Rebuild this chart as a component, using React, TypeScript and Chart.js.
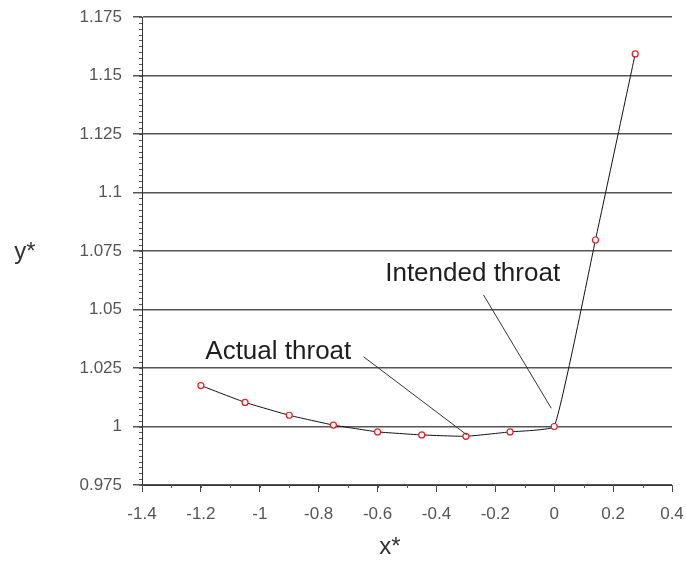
import React, { useEffect, useRef } from "react";
import { Chart, registerables } from "chart.js";

Chart.register(...registerables);

const xValues = [-1.2, -1.05, -0.9, -0.75, -0.6, -0.45, -0.3, -0.15, 0, 0.14, 0.275];
const yValues = [1.0175, 1.0103, 1.0048, 1.0006, 0.9977, 0.9964, 0.9958, 0.9977, 1.0, 1.0797, 1.1592];

const xTickValues = [-1.4, -1.2, -1, -0.8, -0.6, -0.4, -0.2, 0, 0.2, 0.4];
const yTickValues = [0.975, 1, 1.025, 1.05, 1.075, 1.1, 1.125, 1.15, 1.175];

const annotationTexts = ["Intended throat", "Actual throat"];
const annotationTextX = [-0.574, -1.185];
const annotationBaselineY = [1.0622, 1.0288];
const leaderStartX = [-0.24, -0.6475];
const leaderStartY = [1.0562, 1.0298];
const leaderEndX = [-0.01, -0.2965];
const leaderEndY = [1.0078, 0.9964];

const FONT = "'Liberation Sans', Arial, sans-serif";

const overlay = {
  id: "overlay",
  afterDraw(chart: any) {
    const ctx = chart.ctx;
    const xs = chart.scales.x;
    const ys = chart.scales.y;
    const area = chart.chartArea;
    ctx.save();
    ctx.strokeStyle = "#555";
    ctx.lineWidth = 1;
    const yMin = yTickValues[0];
    const yMax = yTickValues[yTickValues.length - 1];
    for (let i = 0; i <= Math.round((yMax - yMin) / 0.0025); i++) {
      const v = yMin + i * 0.0025;
      const py = Math.round(ys.getPixelForValue(v)) + 0.5;
      ctx.beginPath();
      ctx.moveTo(area.left - 3, py);
      ctx.lineTo(area.left, py);
      ctx.stroke();
    }
    const xMin = xTickValues[0];
    const xMax = xTickValues[xTickValues.length - 1];
    for (let i = 0; i <= Math.round((xMax - xMin) / 0.1); i++) {
      const v = xMin + i * 0.1;
      const px = Math.round(xs.getPixelForValue(v)) + 0.5;
      ctx.beginPath();
      ctx.moveTo(px, area.bottom);
      ctx.lineTo(px, area.bottom + 3);
      ctx.stroke();
    }
    ctx.strokeStyle = "#333";
    ctx.lineWidth = 1;
    for (let i = 0; i < annotationTexts.length; i++) {
      ctx.beginPath();
      ctx.moveTo(xs.getPixelForValue(leaderStartX[i]), ys.getPixelForValue(leaderStartY[i]));
      ctx.lineTo(xs.getPixelForValue(leaderEndX[i]), ys.getPixelForValue(leaderEndY[i]));
      ctx.stroke();
    }
    ctx.fillStyle = "#1e1e1e";
    ctx.font = `26px ${FONT}`;
    ctx.textAlign = "left";
    ctx.textBaseline = "alphabetic";
    for (let i = 0; i < annotationTexts.length; i++) {
      ctx.fillText(
        annotationTexts[i],
        xs.getPixelForValue(annotationTextX[i]),
        ys.getPixelForValue(annotationBaselineY[i])
      );
    }
    ctx.fillStyle = "#333";
    ctx.font = `24px ${FONT}`;
    ctx.textAlign = "center";
    ctx.textBaseline = "middle";
    ctx.fillText("y*", 25, 252);
    ctx.fillText("x*", 390, 547);
    ctx.restore();
  },
};

export default function App() {
  const ref = useRef<HTMLCanvasElement>(null);
  useEffect(() => {
    document.body.style.margin = "0";
    const chart = new Chart(ref.current as HTMLCanvasElement, {
      type: "scatter",
      data: {
        datasets: [
          {
            data: xValues.map((x, i) => ({ x, y: yValues[i] })),
            showLine: true,
            borderColor: "#111",
            borderWidth: 1,
            tension: 0.1,
            pointRadius: 3,
            pointBorderWidth: 1.2,
            pointBorderColor: "#e0202a",
            pointBackgroundColor: "#fff",
          },
        ],
      },
      options: {
        animation: false,
        responsive: false,
        layout: { padding: { left: 0, right: 14, top: 17, bottom: 0 } },
        plugins: { legend: { display: false }, tooltip: { enabled: false } },
        scales: {
          x: {
            type: "linear",
            min: xTickValues[0],
            max: xTickValues[xTickValues.length - 1],
            afterBuildTicks: (s: any) => {
              s.ticks = xTickValues.map((v) => ({ value: v }));
            },
            afterFit: (s: any) => {
              s.height = 82;
              s.paddingLeft = 0;
              s.paddingRight = 0;
            },
            grid: {
              drawOnChartArea: false,
              drawTicks: true,
              tickLength: 7,
              color: "#444",
            },
            border: { display: true, color: "#333", width: 1 },
            ticks: {
              color: "#555",
              font: { family: FONT, size: 17 },
              padding: 12,
              maxRotation: 0,
              autoSkip: false,
              callback: (v: any) => String(Number(Number(v).toFixed(2))),
            },
          },
          y: {
            type: "linear",
            min: yTickValues[0],
            max: yTickValues[yTickValues.length - 1],
            afterBuildTicks: (s: any) => {
              s.ticks = yTickValues.map((v) => ({ value: v }));
            },
            afterFit: (s: any) => {
              s.width = 142;
              s.paddingTop = 0;
              s.paddingBottom = 0;
            },
            grid: {
              drawOnChartArea: true,
              drawTicks: true,
              tickLength: 9,
              color: "#555",
              lineWidth: 1.5,
            },
            border: { display: true, color: "#333", width: 1 },
            ticks: {
              color: "#555",
              font: { family: FONT, size: 17 },
              padding: 11,
              autoSkip: false,
              callback: (v: any) => String(Number(Number(v).toFixed(3))),
            },
          },
        },
      },
      plugins: [overlay],
    });
    return () => chart.destroy();
  }, []);
  return (
    <div style={{ position: "fixed", left: 0, top: 0, width: 686, height: 567, background: "#fff" }}>
      <canvas ref={ref} width={686} height={567} />
    </div>
  );
}
